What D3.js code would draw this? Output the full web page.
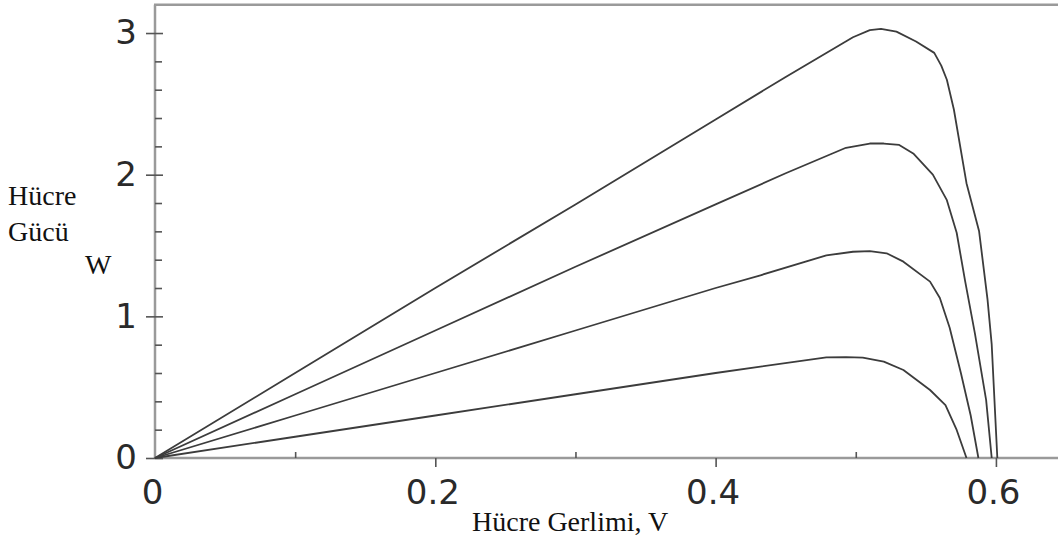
<!DOCTYPE html>
<html>
<head>
<meta charset="utf-8">
<script src="https://cdn.jsdelivr.net/npm/d3@7"></script>
<style>
  html, body { margin: 0; padding: 0; background: #fff; }
  svg { display: block; }
</style>
</head>
<body>
<svg id="chart" width="1058" height="541"></svg>
<script>
// Cell power vs. cell voltage for four irradiance levels (short-circuit current ~6, 4.5, 3, 1.5 A)
const v1 = [0, 0.1, 0.2, 0.3, 0.4, 0.45, 0.498, 0.510, 0.518, 0.529, 0.543, 0.556, 0.561, 0.565, 0.570, 0.579, 0.588, 0.594, 0.597, 0.601];
const p1 = [0, 0.60, 1.20, 1.79, 2.39, 2.69, 2.97, 3.02, 3.03, 3.01, 2.94, 2.86, 2.77, 2.67, 2.46, 1.94, 1.60, 1.12, 0.80, 0];

const v2 = [0, 0.1, 0.2, 0.3, 0.4, 0.45, 0.493, 0.510, 0.520, 0.531, 0.541, 0.555, 0.565, 0.572, 0.578, 0.585, 0.593, 0.597];
const p2 = [0, 0.45, 0.90, 1.35, 1.79, 2.01, 2.19, 2.22, 2.22, 2.21, 2.15, 2.00, 1.82, 1.59, 1.25, 0.88, 0.41, 0];

const v3 = [0, 0.1, 0.2, 0.3, 0.4, 0.432, 0.479, 0.498, 0.510, 0.522, 0.534, 0.553, 0.560, 0.567, 0.575, 0.582, 0.5875];
const p3 = [0, 0.30, 0.60, 0.90, 1.20, 1.29, 1.43, 1.456, 1.46, 1.445, 1.386, 1.245, 1.13, 0.92, 0.60, 0.30, 0];

const v4 = [0, 0.1, 0.2, 0.3, 0.4, 0.432, 0.479, 0.493, 0.505, 0.520, 0.534, 0.553, 0.564, 0.572, 0.579];
const p4 = [0, 0.15, 0.30, 0.45, 0.60, 0.645, 0.711, 0.712, 0.708, 0.68, 0.621, 0.48, 0.374, 0.198, 0];

const xMajorTicks = [0, 0.2, 0.4, 0.6];
const xTickLabels = ["0", "0.2", "0.4", "0.6"];
const xMinorTicks = [0.1, 0.3, 0.5];
const yMajorTicks = [0, 1, 2, 3];
const yTickLabels = ["0", "1", "2", "3"];
const yMinorTicks = [0.2, 0.4, 0.6, 0.8, 1.2, 1.4, 1.6, 1.8, 2.2, 2.4, 2.6, 2.8];

const yTitleLines = ["Hücre", "Gücü", "W"];
const xTitle = "Hücre Gerlimi, V";

const series = [[v1, p1], [v2, p2], [v3, p3], [v4, p4]];

const svg = d3.select("#chart");

const x = d3.scaleLinear().domain([0, 0.65]).range([155, 1066]);
const y = d3.scaleLinear().domain([0, 3.2]).range([458, 4.7]);

const axisColor = "#9a9a9a";
const tickColor = "#555";
const tickFont = "'DejaVu Sans', sans-serif";

// Frame: left axis, bottom axis, top border
svg.append("line").attr("x1", x(0)).attr("x2", x(0)).attr("y1", y(3.2)).attr("y2", y(0))
  .attr("stroke", axisColor).attr("stroke-width", 2.5);
svg.append("line").attr("x1", x(0)).attr("x2", 1058).attr("y1", y(0)).attr("y2", y(0))
  .attr("stroke", axisColor).attr("stroke-width", 2.5);
svg.append("line").attr("x1", x(0) - 1).attr("x2", 1058).attr("y1", y(3.2)).attr("y2", y(3.2))
  .attr("stroke", axisColor).attr("stroke-width", 2.5);

function styleTicks(g) {
  g.select(".domain").remove();
  g.selectAll(".tick line").attr("stroke", tickColor).attr("stroke-width", 1.6);
}

// Y axis: major ticks cross the axis, minor ticks point inward
svg.append("g").attr("transform", `translate(${x(0)},0)`)
  .call(d3.axisLeft(y).tickValues(yMajorTicks).tickSize(9).tickPadding(9)
    .tickFormat((d, i) => yTickLabels[i]))
  .call(styleTicks)
  .call(g => g.selectAll(".tick text")
    .attr("font-family", tickFont).attr("font-size", 34).attr("fill", "#2a2a2a")
    .attr("dy", "0.32em"));
svg.append("g").attr("transform", `translate(${x(0)},0)`)
  .call(d3.axisRight(y).tickValues(yMajorTicks).tickSize(8).tickFormat(""))
  .call(styleTicks);
svg.append("g").attr("transform", `translate(${x(0)},0)`)
  .call(d3.axisRight(y).tickValues(yMinorTicks).tickSize(7).tickFormat(""))
  .call(styleTicks);

// X axis: major ticks below, minor ticks inward
svg.append("g").attr("transform", `translate(0,${y(0)})`)
  .call(d3.axisBottom(x).tickValues(xMajorTicks).tickSize(9).tickPadding(13)
    .tickFormat((d, i) => xTickLabels[i]))
  .call(styleTicks)
  .call(g => g.selectAll(".tick line").filter(d => d === 0).remove())
  .call(g => g.selectAll(".tick text")
    .attr("font-family", tickFont).attr("font-size", 34).attr("fill", "#2a2a2a")
    .attr("dx", -3).attr("dy", "0.72em"));
svg.append("g").attr("transform", `translate(0,${y(0)})`)
  .call(d3.axisTop(x).tickValues(xMinorTicks).tickSize(6).tickFormat(""))
  .call(styleTicks);

// Power curves
const line = d3.line().x(d => x(d[0])).y(d => y(d[1]));
svg.append("g").selectAll("path")
  .data(series.map(([vs, ps]) => vs.map((v, i) => [v, ps[i]])))
  .join("path")
  .attr("d", line)
  .attr("fill", "none")
  .attr("stroke", "#3c3c3c")
  .attr("stroke-width", 1.8)
  .attr("stroke-linejoin", "round");

// Axis titles
const titleFont = "'Liberation Serif', 'Times New Roman', serif";
const yTitlePos = [[8, 205], [8, 241], [85, 274]];
svg.append("g").selectAll("text")
  .data(yTitleLines)
  .join("text")
  .attr("x", (d, i) => yTitlePos[i][0])
  .attr("y", (d, i) => yTitlePos[i][1])
  .attr("font-family", titleFont).attr("font-size", 28).attr("fill", "#111")
  .text(d => d);

svg.append("text")
  .attr("x", 472).attr("y", 531)
  .attr("font-family", titleFont).attr("font-size", 28).attr("fill", "#111")
  .text(xTitle);
</script>
</body>
</html>
